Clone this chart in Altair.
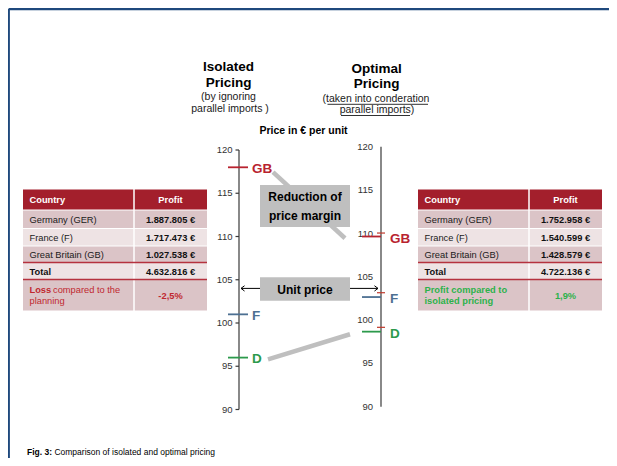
import altair as alt
import pandas as pd

# ---------------- data ----------------
countries_short = ["GB", "F", "D"]
isolated_price = [118, 101, 96]
optimal_price = [110, 103, 99]
optimal_marks = [110.4, 103.5, 99.5]
unit_price = 104
axis_ticks = [90, 95, 100, 105, 110, 115, 120]

table_countries = ["Germany (GER)", "France (F)", "Great Britain (GB)"]
isolated_profit = ["1.887.805 €", "1.717.473 €", "1.027.538 €"]
isolated_total = "4.632.816 €"
isolated_change = "-2,5%"
optimal_profit = ["1.752.958 €", "1.540.599 €", "1.428.579 €"]
optimal_total = "4.722.136 €"
optimal_change = "1,9%"

# ---------------- style / layout ----------------
FONT = "Liberation Sans, Arial, sans-serif"
marker_colors = ["#B8232F", "#4D7092", "#2C9A4C"]
RED_HEAD = "#A31F2C"
ROW_DARK = "#DBC4C7"
ROW_LIGHT = "#EEE3E4"
RED_LINE = "#B5323E"
GREEN = "#2DB24B"
LOSS_RED = "#C0282F"
GRAY = "#BFBFBF"
FRAME = "#1F497D"

W, H = 601, 450
PXU = 8.65      # pixels per price unit
Y120 = 150      # page y of price 120


def P(py):
    """page pixel row -> price units (for layout items)"""
    return 120 - (py - Y120) / PXU


xs = alt.Scale(domain=[8, 8 + W], nice=False, zero=False)
ys = alt.Scale(domain=[P(8 + H), P(8)], nice=False, zero=False)


def X(f="x"):
    return alt.X(f"{f}:Q", scale=xs, axis=None)


def Y(f="y"):
    return alt.Y(f"{f}:Q", scale=ys, axis=None)


def texts(rows, size, color="#000000", weight="normal", align="left", dy=0):
    df = pd.DataFrame(rows, columns=["x", "py", "text"])
    df["y"] = df["py"].map(P)
    return alt.Chart(df).mark_text(
        font=FONT, fontSize=size, color=color, fontWeight=weight,
        align=align, baseline="middle", dy=dy
    ).encode(x=X(), y=Y(), text="text:N")


def rules(rows, color, width, cap="butt"):
    df = pd.DataFrame(rows, columns=["x", "y", "x2", "y2"])
    return alt.Chart(df).mark_rule(color=color, strokeWidth=width, strokeCap=cap).encode(
        x=X(), y=Y(), x2=alt.X2("x2:Q"), y2=alt.Y2("y2:Q"))


def rects(rows):
    df = pd.DataFrame(rows, columns=["x", "py", "x2", "py2", "fill"])
    df["y"] = df["py"].map(P)
    df["y2"] = df["py2"].map(P)
    return alt.Chart(df).mark_rect().encode(
        x=X(), y=Y(), x2=alt.X2("x2:Q"), y2=alt.Y2("y2:Q"),
        color=alt.Color("fill:N", scale=None))


layers = []

# frame
layers.append(rules([(8.6, P(9.0), 8 + W, P(9.0)), (8.6, P(9.0), 8.6, P(8 + H))], FRAME, 2.6))

# ---------------- tables ----------------
HEAD = (189.5, 209.5)
BODY = [(210.5, 228), (229, 245.5), (246.5, 262), (263, 279), (280, 310.5)]
FILLS = [ROW_DARK, ROW_LIGHT, ROW_DARK, ROW_LIGHT, ROW_DARK]


def table(x0, xd, x1, profits, total):
    out = []
    cells = [(x0, HEAD[0], xd - 0.75, HEAD[1], RED_HEAD), (xd + 0.75, HEAD[0], x1, HEAD[1], RED_HEAD)]
    for (t, b), f in zip(BODY, FILLS):
        cells.append((x0, t, xd - 0.75, b, f))
        cells.append((xd + 0.75, t, x1, b, f))
    out.append(rects(cells))
    out.append(rules([(x0, P(262.5), x1, P(262.5)), (x0, P(279.5), x1, P(279.5))], RED_LINE, 1.3))
    cx = (xd + x1) / 2
    hy = (HEAD[0] + HEAD[1]) / 2
    out.append(texts([(x0 + 6.5, hy, "Country")], 9.3, "#FFFFFF", "bold"))
    out.append(texts([(cx, hy, "Profit")], 9.3, "#FFFFFF", "bold", "center"))
    out.append(texts([(x0 + 6.5, (t + b) / 2 + 0.5, c) for (t, b), c in zip(BODY[:3], table_countries)],
                     9.3, "#1A1A1A"))
    out.append(texts([(cx, (t + b) / 2 + 0.5, v) for (t, b), v in zip(BODY[:3], profits)],
                     9.3, "#111111", "bold", "center"))
    ty = (BODY[3][0] + BODY[3][1]) / 2 + 0.5
    out.append(texts([(x0 + 6.5, ty, "Total")], 9.3, "#111111", "bold"))
    out.append(texts([(cx, ty, total)], 9.3, "#111111", "bold", "center"))
    return out, cx


lt, lcx = table(23, 134, 207, isolated_profit, isolated_total)
layers += lt
layers.append(texts([(29.5, 289.5, "Loss")], 9.3, LOSS_RED, "bold"))
layers.append(texts([(53.0, 289.5, "compared to the"), (29.5, 301, "planning")], 9.3, LOSS_RED))
layers.append(texts([(lcx, 295.5, isolated_change)], 9.3, LOSS_RED, "bold", "center"))

rt, rcx = table(418, 529, 602, optimal_profit, optimal_total)
layers += rt
layers.append(texts([(424.5, 290, "Profit compared to"), (424.5, 301, "isolated pricing")], 9.3, GREEN, "bold"))
layers.append(texts([(rcx, 296, optimal_change)], 9.3, GREEN, "bold", "center"))

# ---------------- price chart ----------------
mk = pd.DataFrame({
    "country": countries_short,
    "iso": isolated_price,
    "opt": optimal_price,
    "mark": optimal_marks,
})
mk["lx1"], mk["lx2"], mk["lxt"] = 228, 248, 252
mk["rx1"], mk["rx2"], mk["rxt"] = 362, 381, 390
mk["tx1"], mk["tx2"] = 377, 385
col = alt.Color("country:N", scale=alt.Scale(domain=countries_short, range=marker_colors), legend=None)

# gray connectors (GB and D)
gb_i, d_i = countries_short.index("GB"), countries_short.index("D")
layers.append(rules([
    (273, isolated_price[gb_i] - 0.55, 345, optimal_price[gb_i] - 0.2),
    (268, isolated_price[d_i] - 0.2, 350, optimal_price[d_i] - 0.3),
], GRAY, 4.5))

# unit price arrow
layers.append(rules([(241, unit_price, 378, unit_price)], "#000000", 1))
arr = pd.DataFrame({"x": [241, 378], "y": [unit_price, unit_price],
                    "shape": ["M 1 -0.75 L 0 0 L 1 0.75", "M -1 -0.75 L 0 0 L -1 0.75"]})
layers.append(alt.Chart(arr).mark_point(filled=False, color="#000000", strokeWidth=1, size=50, opacity=1).encode(
    x=X(), y=Y(), shape=alt.Shape("shape:N", scale=None)))

# gray boxes
layers.append(rects([(260, 185, 350, 227, GRAY), (260, 277.3, 350, 300.7, GRAY)]))
layers.append(texts([(305, 197, "Reduction of"), (305, 216, "price margin"), (305, 289.5, "Unit price")],
                    12, "#000000", "bold", "center"))

# axes
AX = "#3A3A3A"
layers.append(rules([(239, 90, 239, 120)], AX, 1.2))
tk = pd.DataFrame({"v": axis_ticks, "x1": 235.5, "x2": 239, "lx": 232.5, "rx": 373})
layers.append(alt.Chart(tk).mark_rule(color=AX, strokeWidth=1.2).encode(
    x=X("x1"), x2=alt.X2("x2:Q"), y=Y("v")))
layers.append(alt.Chart(tk).mark_text(font=FONT, fontSize=9.5, color="#333333", align="right", baseline="middle").encode(
    x=X("lx"), y=Y("v"), text="v:Q"))
layers.append(rules([(381, P(146.7), 381, P(406.7))], AX, 1.2))
layers.append(alt.Chart(tk).mark_text(font=FONT, fontSize=9.5, color="#333333", align="right", baseline="middle", dy=-3).encode(
    x=X("rx"), y=Y("v"), text="v:Q"))

# markers
layers.append(alt.Chart(mk).mark_rule(strokeWidth=1.8).encode(x=X("lx1"), x2=alt.X2("lx2:Q"), y=Y("iso"), color=col))
layers.append(alt.Chart(mk).mark_rule(strokeWidth=1.8).encode(x=X("rx1"), x2=alt.X2("rx2:Q"), y=Y("opt"), color=col))
layers.append(alt.Chart(mk).mark_rule(strokeWidth=1.2, color="#C0392B").encode(x=X("tx1"), x2=alt.X2("tx2:Q"), y=Y("mark")))
layers.append(alt.Chart(mk).mark_text(font=FONT, fontSize=13.5, fontWeight="bold", align="left", baseline="middle", dy=1.5).encode(
    x=X("lxt"), y=Y("iso"), text="country:N", color=col))
layers.append(alt.Chart(mk).mark_text(font=FONT, fontSize=13.5, fontWeight="bold", align="left", baseline="middle", dy=2).encode(
    x=X("rxt"), y=Y("opt"), text="country:N", color=col))

# titles
layers.append(texts([(228.5, 67, "Isolated"), (228.5, 82.5, "Pricing"),
                     (376.7, 68.5, "Optimal"), (376.7, 84, "Pricing")], 13.5, "#000000", "bold", "center"))
layers.append(texts([(228.5, 97, "(by ignoring"), (230, 108.5, "parallel imports )"),
                     (376, 98.5, "(taken into conderation"), (377, 110, "parallel imports)")],
                    10.5, "#1A1A1A", "normal", "center"))
layers.append(rules([(327.5, P(104.3), 428, P(104.3)), (341, P(115.5), 410, P(115.5))], "#1A1A1A", 0.9))
layers.append(texts([(303.5, 131, "Price in € per unit")], 10.5, "#000000", "bold", "center"))

# footer
layers.append(texts([(27, 451.5, "Fig. 3:")], 8.5, "#000000", "bold"))
layers.append(texts([(54.4, 451.5, "Comparison of isolated and optimal pricing")], 8.5, "#000000"))

chart = alt.layer(*layers).properties(
    width=W, height=H, padding=0, autosize=alt.AutoSizeParams(type="none")
).configure_view(stroke=None)

chart.save("out.html", embed_options={"renderer": "svg", "actions": False})
